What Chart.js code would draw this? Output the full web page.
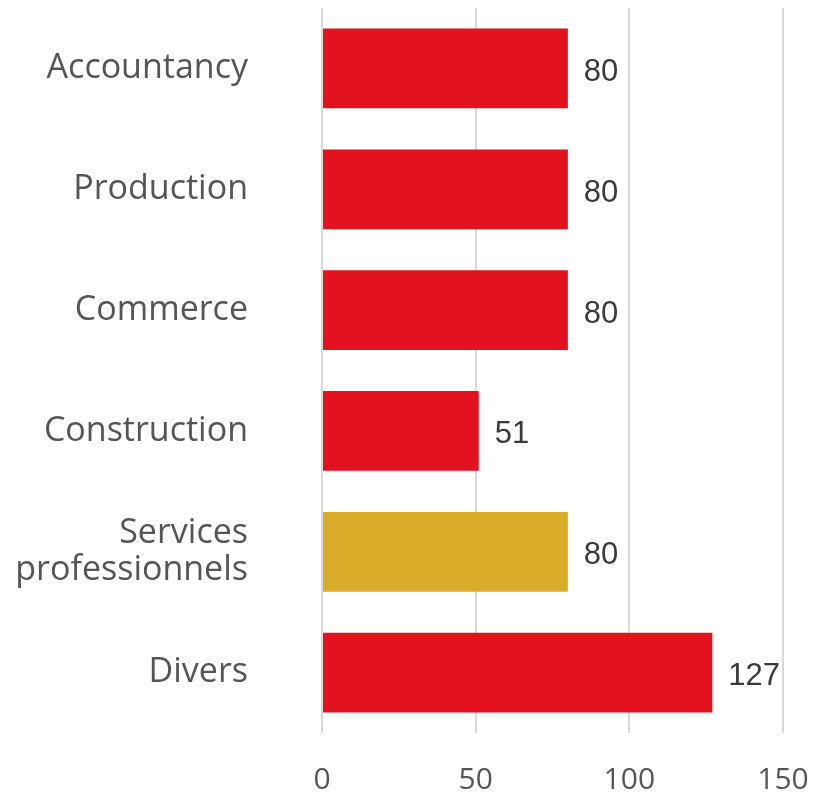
<!DOCTYPE html>
<html>
<head>
<meta charset="utf-8">
<script src="https://cdn.jsdelivr.net/npm/chart.js@4/dist/chart.umd.min.js"></script>
<style>
  html, body { margin: 0; padding: 0; background: #ffffff; }
  #wrap { width: 822px; height: 794px; position: relative; }
</style>
</head>
<body>
<div id="wrap"><canvas id="chart"></canvas></div>
<script>
// Sector categories and counts
const categories = [
  'Accountancy',
  'Production',
  'Commerce',
  'Construction',
  ['Services', 'professionnels'],
  'Divers'
];
const values = [80, 80, 80, 51, 80, 127];
const xTicks = [0, 50, 100, 150];

const RED = '#e3121f';
const GOLD = '#d9ad2a';
const barColors = categories.map(c => Array.isArray(c) ? GOLD : RED);

// Writes each bar's value just past its end
const valueLabels = {
  id: 'valueLabels',
  afterDatasetsDraw(chart) {
    const ctx = chart.ctx;
    const meta = chart.getDatasetMeta(0);
    ctx.save();
    ctx.font = '31px "Liberation Sans Narrow", "Liberation Sans", sans-serif';
    ctx.fillStyle = '#3a3a3a';
    ctx.textAlign = 'left';
    ctx.textBaseline = 'middle';
    meta.data.forEach((bar, i) => {
      ctx.fillText(String(values[i]), bar.x + 16, bar.y + 4);
    });
    ctx.restore();
  }
};

new Chart(document.getElementById('chart'), {
  type: 'bar',
  data: {
    labels: categories,
    datasets: [{
      data: values,
      backgroundColor: barColors,
      borderWidth: 0,
      barPercentage: 0.66,
      categoryPercentage: 1
    }]
  },
  options: {
    indexAxis: 'y',
    responsive: true,
    maintainAspectRatio: false,
    animation: false,
    layout: { padding: { top: 8, right: 39, bottom: 0, left: 0 } },
    plugins: {
      legend: { display: false },
      tooltip: { enabled: false }
    },
    scales: {
      x: {
        min: 0,
        max: 150,
        afterBuildTicks(axis) { axis.ticks = xTicks.map(v => ({ value: v })); },
        afterFit(axis) {
          axis.height = 61;
          axis.paddingLeft = 0;
          axis.paddingRight = 0;
        },
        grid: { color: '#d9d9d9', lineWidth: 2, drawTicks: false },
        border: { display: false },
        ticks: {
          padding: 29,
          maxRotation: 0,
          color: '#555555',
          font: { family: '"Open Sans", sans-serif', size: 30 }
        }
      },
      y: {
        grid: { display: false, drawTicks: false },
        border: { display: false },
        afterFit(axis) {
          axis.width = 322;
          axis.paddingTop = 0;
          axis.paddingBottom = 0;
        },
        ticks: {
          padding: 74,
          color: '#555555',
          font: { family: '"Open Sans", sans-serif', size: 34, lineHeight: 1.1 }
        }
      }
    }
  },
  plugins: [valueLabels]
});
</script>
</body>
</html>
